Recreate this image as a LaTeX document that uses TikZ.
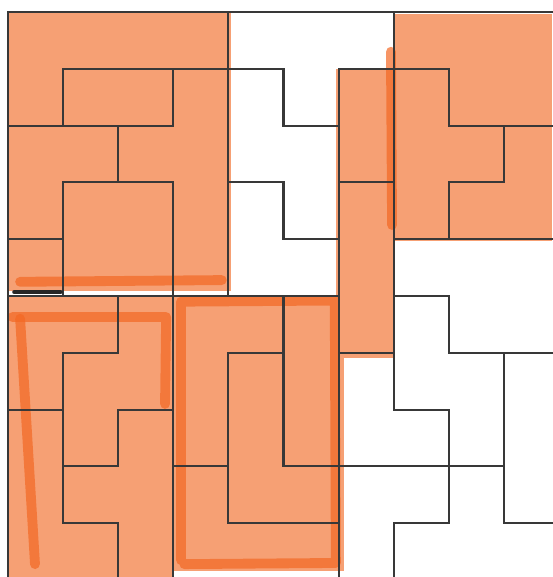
\documentclass[tikz,border=0pt]{standalone}
\usetikzlibrary{backgrounds}
\definecolor{crayon}{RGB}{246,160,116}
\definecolor{crayondark}{RGB}{243,104,36}
\tikzset{
  tline/.style={line width=1.5pt,draw=black!78,line cap=rect},
  crayonfill/.style={fill=crayon,draw=none},
  crayonband/.style={draw=crayondark,line width=7pt,line cap=round,
    line join=round,opacity=0.7},
  penmark/.style={line width=3.5pt,draw=black!85,line cap=round},
}

\begin{document}
\begin{tikzpicture}[x=1.3775cm,y=-1.42cm]
  \useasboundingbox (-0.145,-0.211) rectangle (9.873,9.947);
  % coloured blocks
  \fill[crayonfill] (0,0) rectangle (4.05,4.92);
  \fill[crayonfill] (7,0.03) rectangle (9.873,4.03);
  \fill[crayonfill] (5.95,1) rectangle (7,6.1);
  \fill[crayonfill] (0,5) rectangle (3,9.947);
  \fill[crayonfill] (3,5) rectangle (6.1,9.85);
  % heavier crayon strokes
  \draw[crayonband] (0.22,4.75) -- (3.88,4.72);
  \draw[crayonband] (6.95,0.7) -- (6.97,3.75);
  \draw[crayonband] (2.85,6.9) -- (2.87,5.37) -- (0.08,5.37);
  \draw[crayonband] (0.22,5.4) -- (0.49,9.72);
  \draw[crayonband] (3.14,9.65) -- (3.14,5.1) -- (5.93,5.08)
    -- (5.95,9.7) -- (3.2,9.72);
  % grid lines of the tiling
  \foreach \y/\xa/\xb in {0/0/9.873,1/1/5,1/6/8,2/0/3,2/5/6,2/8/9.873,
      3/1/3,3/4/5,3/6/7,3/8/9,4/0/1,4/5/6,4/7/9.873,5/0/6,5/7/8,
      6/1/2,6/4/5,6/6/7,6/8/9.873,7/0/1,7/2/3,7/7/8,8/1/2,8/3/4,8/5/9,
      9/1/2,9/4/6,9/7/8,9/9/9.873}
    \draw[tline] (\xa,\y) -- (\xb,\y);
  \foreach \x/\ya/\yb in {0/0/9.947,1/1/2,1/3/5,1/6/9,2/2/3,2/5/6,2/7/8,
      2/9/9.947,3/1/2,3/3/9.947,4/0/5,4/6/9,5/1/2,5/3/4,5/5/8,
      6/1/9.947,7/0/7,7/9/9.947,8/1/2,8/3/4,8/5/6,8/7/9,9/2/3,9/6/9}
    \draw[tline] (\x,\ya) -- (\x,\yb);
  \draw[penmark] (0.12,4.93) -- (0.95,4.93);
\end{tikzpicture}
\end{document}
